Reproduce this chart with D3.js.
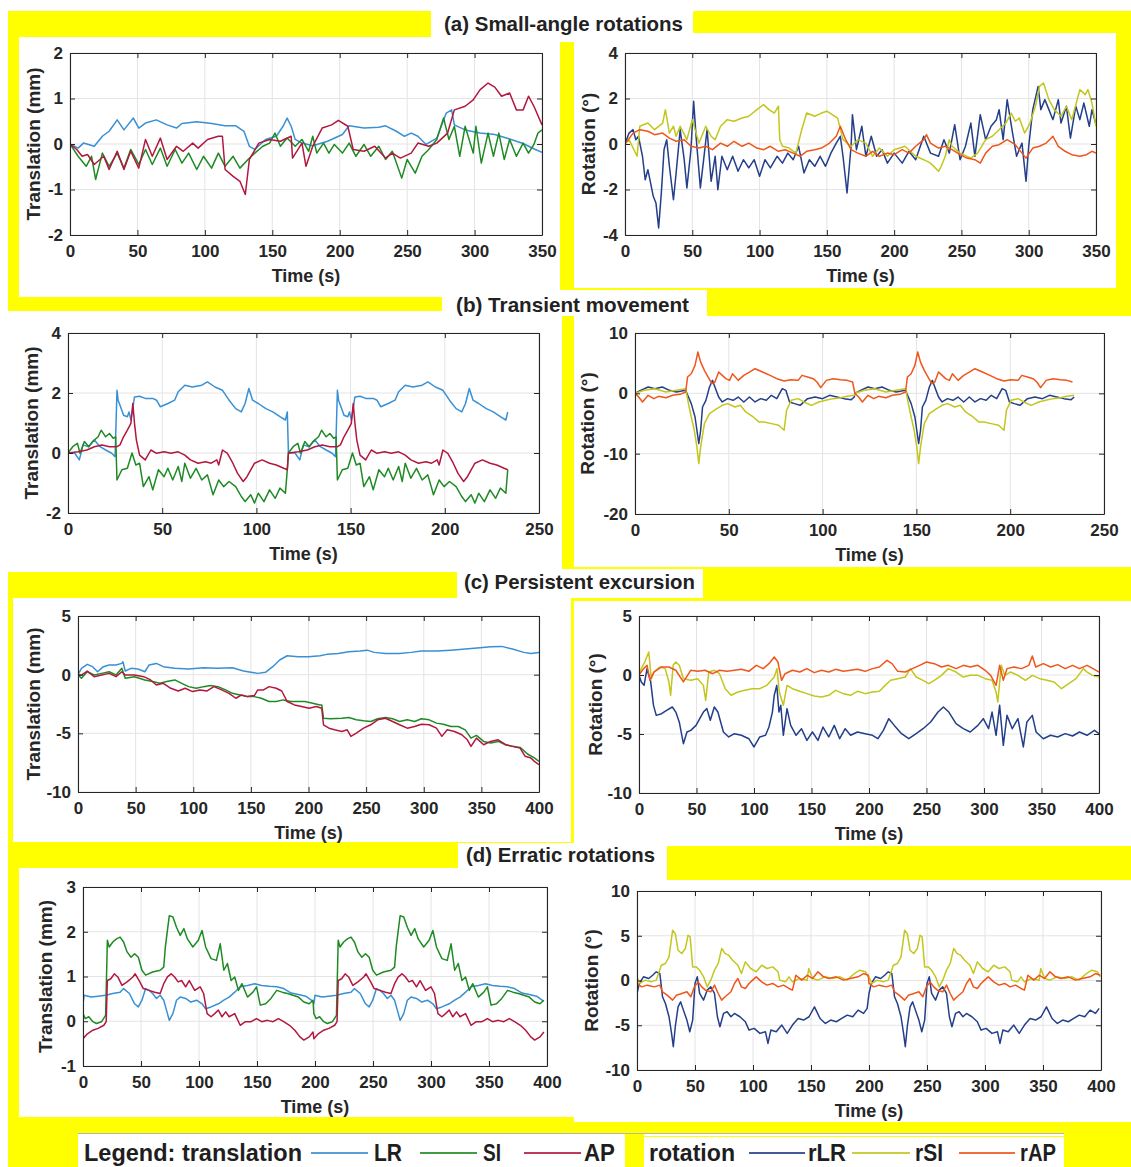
<!DOCTYPE html>
<html><head><meta charset="utf-8">
<script src="https://cdn.jsdelivr.net/npm/d3@7"></script>
<style>body{margin:0;background:#fff}svg{display:block}</style>
</head><body><svg id="c" width="1131" height="1167"></svg>
<script>
// ---------------- DATA (time s, value) ----------------
// (a) Small-angle rotations
const aLR=[[0,0],[6,-0.09],[10,0.02],[18,-0.05],[24,0.17],[29,0.28],[35,0.53],[40,0.31],[47,0.57],[51,0.35],[56,0.46],[64,0.53],[72,0.42],[79,0.35],[83,0.45],[94,0.49],[105,0.45],[115,0.40],[123,0.40],[129,0.28],[133,-0.05],[137,-0.12],[145,0.10],[153,0.17],[158,0.39],[161,0.57],[164,0.39],[167,0.10],[172,0.02],[180,-0.04],[191,0.06],[202,0.21],[207,0.40],[218,0.35],[229,0.37],[234,0.40],[242,0.28],[248,0.17],[253,0.24],[258,0.17],[264,-0.01],[272,0.13],[279,0.68],[283,0.75],[285,0.42],[293,0.31],[304,0.24],[315,0.21],[326,0.11],[336,0.01],[345,-0.12],[350,-0.18]];
const aSI=[[0,0],[6,-0.27],[12,-0.49],[16,-0.27],[19,-0.78],[24,-0.20],[29,-0.49],[35,-0.20],[40,-0.53],[45,-0.12],[51,-0.45],[56,-0.12],[61,-0.45],[67,-0.09],[72,-0.49],[78,-0.12],[83,-0.42],[88,-0.20],[94,-0.56],[99,-0.27],[105,-0.53],[110,-0.20],[115,-0.49],[121,-0.27],[126,-0.53],[132,-0.34],[137,-0.20],[143,-0.05],[148,0.02],[152,0.24],[156,-0.05],[161,0.13],[167,-0.05],[172,0.10],[177,-0.16],[180,0.17],[183,-0.20],[188,0.02],[192,-0.20],[196,-0.01],[202,-0.20],[207,0.02],[212,-0.27],[218,-0.01],[223,-0.27],[229,-0.05],[234,-0.34],[239,-0.16],[246,-0.75],[250,-0.34],[256,-0.64],[261,-0.27],[266,-0.12],[272,0.10],[277,0.57],[281,0.10],[285,0.39],[289,-0.27],[293,0.39],[299,-0.20],[301,0.39],[305,-0.42],[310,0.24],[314,-0.27],[318,0.24],[322,-0.34],[326,0.10],[331,-0.27],[336,0.02],[340,-0.20],[344,-0.01],[347,0.24],[350,0.31]];
const aAP=[[0,0],[5,-0.12],[9,-0.27],[13,-0.23],[18,-0.45],[25,-0.27],[29,-0.56],[35,-0.16],[40,-0.56],[45,-0.16],[51,-0.53],[56,0.10],[61,-0.27],[67,0.13],[72,-0.34],[79,-0.05],[84,-0.16],[91,0.02],[95,-0.09],[102,0.10],[110,0.17],[113,0.17],[115,-0.56],[121,-0.71],[126,-0.82],[130,-1.11],[133,-0.34],[140,0.02],[148,0.10],[156,0.06],[164,0.17],[165,-0.31],[172,0.02],[175,-0.49],[180,-0.05],[187,0.35],[194,0.42],[199,0.52],[206,0.39],[210,-0.12],[218,-0.16],[226,-0.05],[234,-0.31],[239,-0.20],[245,-0.31],[253,-0.20],[258,0.02],[266,-0.05],[272,0.02],[280,0.24],[285,0.75],[293,0.83],[299,0.97],[304,1.19],[310,1.34],[315,1.25],[320,1.05],[326,1.12],[331,0.75],[336,0.75],[340,1.05],[344,0.83],[350,0.42]];
const aRLR=[[0,0],[3,0.48],[6,0.63],[8,0.19],[10,0.34],[13,-0.54],[15,-1.57],[17,-1.13],[19,-1.71],[21,-2.30],[23,-2.59],[25,-3.69],[27,-2.15],[29,-0.25],[31,0.19],[33,-0.98],[36,-2.45],[38,-1.27],[41,0.63],[44,-0.69],[46,-1.93],[49,-0.25],[51,1.88],[53,0.19],[56,-1.93],[59,-0.40],[61,0.63],[64,-1.64],[67,-0.54],[69,-2.01],[72,-0.54],[76,-1.13],[80,-0.54],[84,-1.20],[88,-0.69],[92,-1.05],[96,-0.69],[100,-1.42],[104,-0.69],[108,-1.05],[113,-0.54],[117,-0.84],[121,-0.40],[125,-0.69],[129,-0.10],[133,-1.27],[137,-0.69],[141,-0.98],[145,-0.54],[149,-0.98],[153,-0.40],[157,0.04],[160,0.34],[162,-0.54],[165,-2.15],[168,-0.10],[169,1.29],[172,-0.25],[176,0.78],[179,-0.54],[183,0.34],[187,-0.54],[191,-0.25],[195,-0.84],[200,-0.40],[206,-0.84],[211,-0.32],[216,-0.69],[222,0.34],[227,-0.40],[233,-0.54],[237,0.19],[241,-0.40],[245,0.85],[249,-0.69],[253,-0.10],[257,0.92],[260,-0.54],[264,1.29],[268,0.19],[272,0.78],[276,1.07],[278,1.51],[281,0.19],[284,1.95],[288,0.48],[291,-0.54],[295,0.04],[298,-1.64],[300,-0.10],[303,1.51],[307,2.53],[309,1.51],[312,1.95],[315,1.51],[318,1.07],[322,1.95],[324,0.92],[328,1.66],[331,0.26],[335,1.66],[338,1.07],[341,1.80],[345,0.78],[347,1.51],[350,0.85]];
const aRSI=[[0,0],[3,0.19],[9,-0.54],[11,0.78],[17,0.92],[22,0.63],[28,0.92],[30,1.51],[33,0.48],[36,0.78],[38,0.34],[41,0.78],[46,0.19],[50,1.07],[55,0.04],[60,0.78],[64,0.34],[67,0.19],[71,0.78],[76,1.07],[81,1.00],[87,1.14],[92,1.22],[98,1.51],[103,1.73],[107,1.51],[111,1.36],[114,1.66],[115,0.19],[117,-0.10],[122,-0.18],[127,-0.40],[131,0.56],[135,1.36],[141,1.22],[146,1.36],[150,1.44],[154,1.29],[158,1.14],[162,0.19],[168,-0.10],[173,0.19],[179,0.04],[184,-0.54],[189,-0.18],[195,-0.54],[200,-0.25],[208,-0.10],[216,-0.54],[222,-0.69],[227,-0.84],[233,-1.20],[235,-0.98],[238,-0.54],[241,0.19],[243,-0.10],[249,-0.40],[257,-0.62],[262,-0.40],[268,0.19],[273,0.34],[278,0.63],[283,0.92],[287,1.36],[290,1.00],[293,1.14],[297,0.48],[301,0.92],[305,1.66],[308,2.53],[311,2.68],[315,1.95],[319,1.51],[324,1.22],[328,1.66],[332,1.07],[338,2.39],[342,2.17],[344,2.39],[347,1.80],[350,0.78]];
const aRAP=[[0,0],[6,0.48],[11,0.63],[17,0.56],[22,0.41],[28,0.48],[33,0.26],[38,0.12],[44,0.19],[49,-0.10],[55,-0.18],[60,-0.10],[65,-0.25],[71,0.04],[76,-0.10],[81,0.12],[87,-0.10],[92,0.04],[98,-0.18],[103,-0.25],[108,-0.10],[114,-0.32],[119,-0.25],[125,-0.40],[130,-0.54],[135,-0.32],[141,-0.25],[146,-0.18],[152,0.04],[157,0.34],[160,0.78],[164,0.19],[168,-0.25],[173,-0.40],[179,-0.54],[184,-0.32],[189,-0.54],[195,-0.40],[200,-0.47],[206,-0.25],[211,-0.40],[216,-0.10],[222,0.19],[224,0.41],[227,0.04],[233,-0.18],[238,-0.10],[243,-0.25],[249,-0.47],[254,-0.62],[260,-0.69],[264,-0.84],[268,-0.40],[273,-0.10],[278,-0.03],[284,0.19],[290,-0.03],[295,-0.40],[298,-0.62],[303,-0.18],[308,-0.10],[313,0.04],[318,0.34],[322,-0.10],[327,-0.32],[332,-0.47],[338,-0.54],[343,-0.47],[347,-0.32],[350,-0.40]];

// (b) Transient movement: one recorded cycle, shown twice in the figure
const bCycleLR=[[0,0],[3.5,0],[6,-0.23],[8,0.27],[11,0.21],[14,0.43],[17,0.21],[20,0.10],[23,0.0],[25,-0.12],[26,2.09],[26.6,1.76],[27.6,1.59],[29.5,1.26],[31.5,1.21],[32.4,1.37],[33.4,1.10],[35.3,1.87],[38,1.89],[41,1.82],[45,1.82],[47,1.76],[49,1.54],[53,1.65],[56.6,1.76],[58.5,2.04],[62,2.26],[66,2.20],[71,2.26],[74,2.37],[78,2.20],[82,2.09],[85.5,1.76],[89,1.48],[92,1.37],[94,1.65],[96,2.15],[98,1.76],[101,1.65],[105,1.48],[108.7,1.37],[112.5,1.21],[115.4,1.10],[116.4,1.37]];
const bCycleSI=[[0,0],[2.5,0.21],[5,0.32],[6.4,-0.01],[8.7,0.38],[11,0.21],[13,0.38],[16,0.54],[17.6,0.76],[20,0.54],[22,0.65],[24,0.49],[25.3,0.54],[26,-0.90],[28.6,-0.56],[31.5,-0.51],[34,0],[36,-0.40],[38,-0.34],[40,-1.12],[43,-0.79],[45,-1.23],[48,-0.56],[51,-0.79],[53,-0.51],[55.6,-0.90],[58.5,-0.45],[60.4,-0.95],[62,-0.34],[65,-0.84],[68,-0.51],[71,-0.90],[74,-0.73],[77,-1.39],[80,-0.90],[82.6,-1.12],[85.5,-0.95],[89,-1.12],[92,-1.45],[94,-1.62],[97,-1.39],[99,-1.67],[101,-1.34],[104,-1.62],[107,-1.23],[110,-1.51],[112.5,-1.17],[115.4,-1.34],[116.4,-0.56]];
const bCycleAP=[[0,0],[5.4,0.04],[10,0.10],[14,0.21],[18,0.27],[22,0.21],[26,0.21],[27.6,0.27],[29.5,0.54],[31.5,0.76],[33.4,0.99],[34.4,1.65],[35.3,0.99],[36.3,0.43],[38,-0.07],[41,-0.23],[44,0.10],[47,-0.01],[51,0.04],[54.6,-0.01],[58.5,0.04],[62,-0.07],[65,-0.23],[69,-0.34],[73,-0.29],[76,-0.34],[79,-0.23],[80,-0.40],[82,0.10],[84.6,-0.01],[87.5,-0.34],[90,-0.68],[93,-0.95],[95,-0.79],[99,-0.34],[103,-0.23],[107,-0.34],[110.6,-0.40],[114.5,-0.51],[116.4,-0.56]];
const bCycleRLR=[[0,0],[3,0.50],[7,1.05],[10.6,0.77],[14.5,1.05],[18.4,0.50],[22,0.22],[27,0.50],[28.5,-0.61],[30,-1.71],[32,-3.92],[33,-6.12],[34,-8.33],[35,-6.12],[36,-2.26],[37.8,-1.16],[39.7,1.05],[41.3,2.15],[42.6,1.05],[44.6,-0.61],[46.5,-1.43],[49.4,-0.88],[52.3,-1.16],[55,-0.61],[58,-1.43],[61,-0.61],[64,-1.43],[67,-0.88],[70,-1.16],[72.7,-0.33],[75.6,-0.88],[78.5,0.77],[80.4,0.50],[82.4,-1.43],[85,-1.71],[88,-1.99],[92,-0.88],[96,-0.61],[100,-0.88],[103.7,-0.33],[107.6,-0.61],[111.4,-0.88],[115.3,-1.05],[116.9,-0.61]];
const bCycleRSI=[[0,0],[5,0.50],[10.6,0.77],[16.5,0.22],[22,0.50],[27,0.77],[28.5,-1.71],[30,-3.92],[31.6,-6.12],[33,-8.88],[34,-11.64],[35,-8.88],[37,-5.02],[39.7,-3.36],[43.6,-2.54],[46.5,-1.99],[49.4,-1.71],[53.3,-2.26],[56.2,-1.99],[59,-3.09],[63,-3.92],[66,-4.74],[68.8,-4.74],[72.7,-5.02],[76.6,-5.30],[79.5,-6.12],[80.8,-2.81],[83.3,-1.16],[87,-0.88],[90,-1.43],[94,-1.99],[98,-1.43],[101.7,-1.16],[105.6,-0.88],[109.5,-0.72],[113,-0.50],[116.9,-0.33]];
const bCycleRAP=[[0,0],[2,-0.61],[4,-1.43],[7,-0.33],[10,-0.88],[12.6,-0.50],[16.5,-0.72],[20,-0.33],[24,-0.17],[27,0.22],[28,2.70],[30,3.25],[32,4.63],[33.5,6.84],[35,5.18],[37,3.81],[39,2.70],[41,1.60],[42.6,1.88],[44.6,3.53],[46.5,2.98],[48.4,2.43],[50.4,2.15],[52,3.25],[55,2.15],[58,2.98],[61,3.53],[64,4.08],[68,3.53],[72,2.98],[75.6,2.43],[79.5,2.04],[83,2.26],[87,2.15],[89,2.98],[92,2.70],[95,2.43],[97,1.88],[99,0.94],[102,2.15],[105.6,2.43],[109.5,2.26],[113,2.15],[116,1.88]];

// (c) Persistent excursion
const cLR=[[0,0],[3,0.54],[8,0.88],[12.6,0.68],[17,0.25],[22,0.68],[27,0.82],[33,0.82],[38,0.96],[39,1.10],[41,0.31],[46,0.54],[52,0.48],[58,0.25],[61.6,0.82],[68,0.96],[74,0.68],[84,0.54],[96,0.48],[109,0.59],[121.5,0.54],[134,0.59],[143.6,0.31],[150,0.20],[156,0.11],[162.6,0.20],[169,0.68],[175,1.25],[181.5,1.61],[191,1.53],[200,1.53],[210,1.61],[216,1.73],[225.7,1.81],[235,1.95],[244.7,2.01],[251,2.09],[257,1.90],[266.8,1.81],[279,1.81],[289,1.90],[298,2.01],[311,2.01],[323.6,2.09],[336,2.18],[348.9,2.29],[358,2.38],[367.8,2.41],[377,2.18],[386.7,1.90],[393,1.81],[400,1.90]];
const cSI=[[0,0],[3,-0.31],[8,0.25],[14,-0.03],[20.5,0.11],[27,0.25],[33,-0.03],[38,0.54],[41,-0.31],[49,-0.17],[58,-0.45],[64.7,-0.59],[71,-0.74],[77,-0.59],[84,-0.45],[90,-0.74],[96,-1.02],[102.6,-1.16],[109,-1.02],[115,-0.93],[121.5,-1.02],[128,-1.30],[134,-1.59],[140.5,-1.73],[147,-1.87],[153,-1.87],[159,-2.01],[165.8,-2.29],[172,-2.29],[178,-2.15],[184.7,-2.29],[191,-2.29],[197,-2.29],[203.6,-2.43],[210,-2.58],[211.5,-2.58],[213,-3.71],[219,-3.76],[229,-3.71],[235,-3.65],[241.5,-3.85],[247.8,-3.93],[254,-3.99],[260,-3.76],[266.8,-3.65],[273,-3.76],[279,-3.99],[285.7,-3.85],[292,-3.99],[298,-3.76],[304.7,-3.85],[311,-4.13],[317,-4.22],[323.6,-4.42],[330,-4.42],[336,-4.70],[341,-5.41],[345.7,-5.18],[352,-5.69],[358,-5.83],[364.6,-5.69],[371,-5.97],[377,-6.11],[383.6,-6.20],[390,-6.76],[396,-7.10],[400,-7.39]];
const cAP=[[0,0],[3,-0.03],[8,0.31],[14,-0.17],[20.5,-0.03],[27,0.11],[33,-0.17],[38,0.25],[41,-0.03],[49,-0.03],[57,-0.17],[63,-0.45],[68,-0.88],[74,-0.74],[80.5,-1.16],[87,-1.39],[93,-1.16],[99.4,-1.44],[105.8,-1.30],[112,-1.39],[118,-1.02],[124.7,-1.30],[131,-1.59],[137,-2.01],[142,-1.73],[147,-1.87],[153,-1.78],[156,-1.30],[161,-1.30],[165.8,-1.02],[172,-1.16],[176.8,-1.39],[181.5,-2.29],[187.8,-2.58],[194,-2.72],[200.5,-2.86],[206.8,-2.72],[211.5,-2.86],[213,-4.27],[217.8,-4.56],[222.6,-4.70],[229,-4.84],[233.6,-4.70],[236.8,-5.26],[241.5,-4.98],[247.8,-4.56],[254,-4.27],[260,-3.85],[266.8,-3.71],[273,-3.99],[279,-4.27],[285.7,-4.56],[292,-4.42],[298,-4.22],[304.7,-4.27],[311,-4.56],[315.7,-5.26],[320.4,-4.70],[326.7,-4.84],[333,-5.12],[337.8,-5.55],[341,-6.11],[345.7,-5.41],[352,-5.97],[358,-5.69],[364.6,-5.55],[371,-5.97],[377,-6.11],[383.6,-6.26],[388,-6.96],[393,-7.10],[396,-7.39],[400,-7.67]];
const cRLR=[[0,0],[2,-0.59],[4.4,-0.88],[7,0.54],[8.5,-0.03],[10,-0.45],[12.6,-2.57],[15,-3.42],[19.6,-3.28],[24,-2.99],[29,-2.71],[32,-3.14],[35,-3.98],[38.6,-5.82],[41.7,-4.83],[45,-4.69],[49.6,-4.27],[52.8,-3.70],[56,-3.14],[59,-2.85],[62,-3.84],[65.5,-2.71],[68.6,-3.14],[73.4,-4.83],[78,-5.25],[83,-4.97],[89,-5.11],[95.5,-5.40],[100,-6.10],[105,-5.25],[110,-5.11],[113,-4.41],[116,-3.14],[117.6,-1.72],[119.8,-0.88],[121.7,-3.14],[123.3,-2.57],[125.5,-5.11],[128.7,-2.85],[131.9,-4.27],[136.6,-5.11],[141.3,-4.55],[146,-5.54],[150.8,-4.83],[155.6,-5.54],[160,-4.41],[165,-5.25],[169.8,-4.27],[174.5,-5.40],[179.3,-4.55],[184,-5.11],[190,-4.83],[196.7,-4.97],[203,-5.11],[207.7,-5.40],[212.5,-4.69],[217.2,-3.70],[222,-4.27],[228.3,-4.97],[234.6,-5.40],[241,-4.97],[247,-4.55],[253.6,-3.98],[260,-3.14],[264.7,-2.71],[269.4,-3.14],[275.7,-4.12],[282,-4.55],[288,-4.83],[294.7,-4.27],[299.4,-3.70],[304,-4.55],[307,-3.14],[310.5,-5.11],[313.6,-2.57],[316.8,-5.96],[320,-3.42],[324.6,-4.55],[329.5,-3.70],[334.2,-6.10],[337.3,-3.98],[342,-3.42],[345.3,-4.83],[351.6,-5.40],[357.9,-5.11],[364,-5.25],[370.6,-4.97],[377,-5.17],[383,-4.83],[389.6,-5.11],[396,-4.69],[400,-4.97]];
const cRSI=[[0,0],[2,0.54],[5,1.10],[8.5,1.95],[10.7,-0.31],[13,0.25],[18,0.68],[22.8,0.54],[26,-0.59],[27.5,-1.72],[29.7,0.82],[32,1.10],[35,0.82],[38.6,-0.31],[45,-0.45],[51,-0.31],[56,-0.88],[58,-2.15],[60.7,0.25],[65.5,0.40],[70,0.11],[75,-1.16],[80,-1.72],[86,-1.44],[92,-1.30],[98.6,-1.16],[105,-1.16],[111,-0.88],[117.6,-0.17],[120,0.54],[122,-1.44],[125.5,-2.57],[128.7,-0.88],[133.4,-1.16],[139.8,-1.38],[146,-1.58],[152.4,-1.78],[158.7,-1.86],[165,-1.72],[171,-1.30],[177.7,-1.58],[184,-1.72],[190,-1.38],[196.7,-1.58],[203,-1.44],[209,-1.38],[214,-0.88],[218.8,-0.45],[225,-0.31],[231.5,-0.17],[236,0.54],[241,-0.17],[247,-0.45],[252,-0.73],[256.8,-0.45],[263,-0.03],[269,0.54],[275.7,0.25],[282,-0.17],[288,-0.03],[294.7,-0.03],[301,-0.31],[307,-0.45],[310.5,-1.44],[312,-2.29],[315,0.82],[318,-0.03],[323,0.25],[329.5,-0.03],[336,-0.45],[342,-0.03],[348.5,-0.31],[354.8,-0.45],[361,-0.59],[367.4,-1.16],[373.7,-0.73],[380,-0.31],[386.4,0.54],[389.6,0.25],[394.3,-0.03],[400,-0.17]];
const cRAP=[[0,0],[4,0.54],[7,0.82],[9.5,-0.45],[13,0.25],[19.6,0.68],[26,0.68],[32,0.40],[38.6,-0.59],[45,0.40],[51,0.31],[57.5,0.40],[64,0.11],[70,0.40],[76.5,0.31],[83,0.40],[89,0.48],[95.5,0.31],[102,0.82],[108,0.54],[113,0.96],[117.6,1.53],[120.8,1.10],[124,-0.45],[127,0.11],[133.4,0.40],[139.8,0.25],[146,0.54],[152.4,0.20],[158.7,0.40],[165,0.25],[171,0.48],[177.7,0.31],[184,0.40],[190,0.48],[196.7,0.31],[203,0.54],[209,0.68],[215.6,1.24],[220,0.96],[225,0.31],[231.5,0.25],[237.8,0.54],[244,0.82],[250,1.10],[256.8,0.96],[263,0.68],[269,0.82],[275.7,0.54],[282,0.82],[288,0.68],[294.7,0.82],[301,0.40],[305.8,-0.03],[310.5,-0.88],[313.6,0.82],[316.8,-0.45],[320,0.54],[326,0.68],[332.6,0.54],[339,0.82],[342,1.61],[345,0.68],[351.6,0.96],[357.9,0.68],[364,0.88],[370.6,0.54],[377,0.82],[383,0.54],[389.6,0.82],[396,0.48],[400,0.25]];

// (d) Erratic rotations: one recorded cycle, shown twice in the figure
const dCycleLR=[[0,0.39],[1,0.58],[7,0.54],[13,0.56],[19.5,0.58],[25.7,0.62],[32,0.65],[35,0.73],[40,0.62],[44.5,0.39],[47.7,0.32],[50.8,0.47],[54,0.73],[57,0.69],[60,0.62],[63.4,0.51],[66.5,0.58],[69.6,0.47],[72.8,0.17],[74.4,0.02],[77.5,0.17],[80.6,0.47],[83.8,0.54],[88.5,0.51],[93,0.43],[98,0.47],[102.6,0.39],[105.7,0.28],[110.4,0.32],[116.7,0.39],[121.4,0.47],[126,0.54],[130.8,0.65],[135.5,0.77],[141.8,0.80],[148,0.84],[154,0.80],[160.6,0.78],[167,0.77],[173,0.73],[179.5,0.63],[185.7,0.60],[192,0.56],[198,0.45]];
const dCycleSI=[[0,0.17],[2,0.06],[5,0.10],[8.5,-0.01],[11.6,-0.05],[16,-0.01],[19.5,0.13],[21,1.81],[22.6,1.66],[25.7,1.77],[28.9,1.84],[32,1.88],[35,1.77],[38,1.55],[41.4,1.43],[44.5,1.51],[47.7,1.43],[50.8,1.14],[54,1.03],[60,1.10],[66.5,1.14],[69.6,1.21],[71,1.66],[74.4,2.36],[77.5,2.33],[80.6,2.10],[83.8,1.92],[87,2.07],[90,1.84],[94.7,1.66],[99.4,1.81],[102.6,2.03],[105.7,1.66],[110.4,1.40],[115,1.36],[118.3,1.73],[121.4,1.14],[124.5,1.29],[127.7,0.91],[130.8,0.99],[134,0.69],[137,0.84],[141.8,0.54],[146.5,0.65],[149.6,0.77],[152.8,0.36],[157.5,0.39],[162,0.51],[167,0.69],[171.6,0.65],[176.3,0.62],[181,0.58],[185.7,0.54],[190.4,0.43],[195,0.39],[198.3,0.47]];
const dCycleAP=[[0,-0.39],[3.8,-0.28],[8.5,-0.20],[13,-0.16],[18,-0.09],[20,-0.01],[21,0.91],[24,0.95],[27,1.06],[30,0.99],[33.6,0.80],[38,0.88],[43,0.99],[45,1.06],[49,0.88],[52,0.73],[57,0.69],[61.8,0.65],[66.5,0.62],[69.6,0.84],[72.8,0.99],[76,1.06],[79,0.99],[82,0.88],[85,0.91],[88.5,0.77],[91.6,0.91],[96.3,0.69],[101,0.77],[104,0.62],[107,0.17],[110.4,0.10],[113.6,0.17],[116.7,0.25],[119.8,0.10],[123,0.21],[126,0.10],[130.8,0.17],[135.5,-0.09],[140,-0.01],[145,-0.01],[149.6,0.06],[154,-0.01],[159,0.02],[163.8,-0.01],[168.5,0.06],[173,-0.01],[178,-0.09],[182.6,-0.20],[187,-0.35],[190.4,-0.42],[195,-0.35],[198.3,-0.24]];
const dCycleRLR=[[0,-1.45],[2,-0.33],[5.6,0.41],[10,0.22],[13.5,0.59],[16.6,0.97],[19.7,0.78],[22,-1.82],[24.5,-2.57],[27.6,-4.05],[29.8,-5.91],[31.3,-7.40],[33,-5.17],[35.4,-2.94],[37.6,-2.38],[40,-3.31],[43,-4.42],[45.5,-5.72],[48,-4.42],[50,-0.33],[52,0.41],[54,-1.45],[57.4,-2.19],[60.5,-1.08],[63.6,-0.71],[66.8,-1.45],[69.3,-4.05],[71.5,-5.17],[74.6,-3.68],[77.7,-3.49],[81,-4.05],[84,-3.68],[88.7,-4.05],[93.4,-4.61],[96.6,-5.54],[101,-5.35],[106,-5.91],[110.7,-5.72],[112.9,-7.03],[115.4,-5.54],[120,-5.72],[124.8,-4.98],[129.5,-5.91],[134,-4.98],[138.9,-4.24],[143.6,-4.42],[148.3,-4.05],[153,-2.94],[157.8,-4.24],[162.4,-4.80],[167,-4.42],[171.8,-4.61],[176.5,-4.24],[181.2,-3.87],[186,-4.05],[190.6,-3.31],[195.3,-3.68],[198.4,-3.12]];
const dCycleRSI=[[0,0.41],[2.5,-0.33],[7,0.04],[12,-0.15],[16.6,0.04],[21,1.71],[24.5,1.90],[27.6,2.64],[30.7,5.61],[33,5.24],[35.4,3.38],[38.6,3.01],[41.7,3.57],[44,5.06],[45.8,4.87],[48,1.52],[51,1.52],[54,1.15],[57.4,0.41],[60.5,-0.71],[63.6,0.04],[66.8,1.15],[70,1.90],[73,3.57],[76,3.01],[79,2.83],[82.4,2.27],[87,1.71],[90,0.78],[93.4,2.08],[98,1.34],[102.8,0.97],[107.5,1.71],[112,1.34],[117,1.52],[121.6,0.97],[123,0.04],[128,-0.15],[131,0.41],[134,-0.15],[140,0.22],[146.7,0.04],[148,1.34],[151.4,0.22],[156,0.04],[162,0.41],[168.6,0.22],[175,0.41],[181,0.04],[187.5,0.78],[192,1.15],[197,0.97],[199.4,0.41]];
const dCycleRAP=[[0,-0.33],[4,-0.71],[8.8,-0.52],[15,-0.71],[19.7,-0.52],[22,-1.26],[26,-1.64],[30.7,-2.19],[34,-1.64],[38.6,-1.45],[43,-1.26],[46.4,-1.82],[49.5,-0.71],[52.7,-0.15],[55.8,-0.71],[59,-1.08],[63.6,-1.26],[66.8,-0.52],[70,-1.45],[73,-2.19],[76,-1.82],[81,-1.26],[84,-0.33],[87,0.22],[90,-0.71],[93.4,-0.89],[96.6,-0.33],[99.7,0.04],[102.8,0.41],[107.5,-0.15],[112,-0.52],[117,-0.33],[121.6,-0.71],[126.3,-0.52],[131,-0.89],[134,-1.08],[137,0.59],[142,0.04],[146.7,0.59],[151.4,0.22],[156,0.97],[160.8,0.41],[165.5,0.22],[171.8,0.41],[178,0.04],[184,0.22],[190.6,0.41],[195.3,0.78],[199.4,0.59]];

// ticks & labels
const xTicks350=[0,50,100,150,200,250,300,350];
const xTicks250=[0,50,100,150,200,250];
const xTicks400=[0,50,100,150,200,250,300,350,400];
const yTicksA_T=[-2,-1,0,1,2], yTicksA_R=[-4,-2,0,2,4];
const yTicksB_T=[-2,0,2,4], yTicksB_R=[-20,-10,0,10];
const yTicksC=[-10,-5,0,5];
const yTicksD_T=[-1,0,1,2,3], yTicksD_R=[-10,-5,0,5,10];
const titles=['(a) Small-angle rotations','(b) Transient movement','(c) Persistent excursion','(d) Erratic rotations'];
const transNames=['LR','SI','AP'], rotNames=['rLR','rSI','rAP'];

// ---------------- DRAWING ----------------
const FONT='"Liberation Sans", Arial, Helvetica, sans-serif';
const INK='#262626';
const COL={LR:'#3990d4',SI:'#1f8a24',AP:'#b2183f',rLR:'#233f8a',rSI:'#c3c61d',rAP:'#ef561c'};
const svg=d3.select('#c');

function tile(cycle,period,n){const out=[];for(let k=0;k<n;k++)cycle.forEach(p=>out.push([p[0]+k*period,p[1]]));return out;}

// background: page white, yellow mat, white panels
svg.append('rect').attr('width',1131).attr('height',1167).attr('fill','#fff');
svg.append('rect').attr('x',8).attr('y',11).attr('width',1123).attr('height',1156).attr('fill','#ffff00');
const whiteBoxes=[[19,37,541,260],[431,11,262,31],[574,33,542,255],[0,311,562,261],[442,290,265,26],[574,316,557,251],
 [13,598,558,244],[457,569,246,29],[574,601,557,245],[19,868,555,249],[458,843,209,37],[574,880,557,242],[78,1133,547,34],[644,1137,420,30],[644,1133,420,3]];
svg.selectAll('rect.wb').data(whiteBoxes).join('rect').attr('class','wb')
 .attr('x',d=>d[0]).attr('y',d=>d[1]).attr('width',d=>d[2]).attr('height',d=>d[3]).attr('fill','#fff');

const fmt=d=>String(d);
function panel(p,idx){
 const g=svg.append('g');
 const x=d3.scaleLinear().domain(p.xd).range([p.x0,p.x1]);
 const y=d3.scaleLinear().domain(p.yd).range([p.y1,p.y0]);
 g.selectAll('line.gx').data(p.xt).join('line').attr('x1',d=>x(d)).attr('x2',d=>x(d)).attr('y1',p.y0).attr('y2',p.y1).attr('stroke','#e4e4e4').attr('stroke-width',1);
 g.selectAll('line.gy').data(p.yt).join('line').attr('x1',p.x0).attr('x2',p.x1).attr('y1',d=>y(d)).attr('y2',d=>y(d)).attr('stroke','#e4e4e4').attr('stroke-width',1);
 const cid='clip'+idx;
 svg.append('clipPath').attr('id',cid).append('rect').attr('x',p.x0).attr('y',p.y0).attr('width',p.x1-p.x0).attr('height',p.y1-p.y0);
 const line=d3.line().x(d=>x(d[0])).y(d=>y(d[1]));
 p.series.forEach(s=>g.append('path').datum(s[0]).attr('d',line).attr('fill','none').attr('stroke',s[1]).attr('stroke-width',1.5).attr('stroke-linejoin','round').attr('clip-path',`url(#${cid})`));
 const styleAx=a=>{a.attr('font-family',FONT).attr('font-size',17).attr('font-weight','bold');a.selectAll('.domain').attr('stroke',INK).attr('stroke-width',1.1);a.selectAll('.tick line').attr('stroke',INK);a.selectAll('text').attr('fill',INK);};
 styleAx(g.append('g').attr('transform',`translate(0,${p.y1})`).call(d3.axisBottom(x).tickValues(p.xt).tickSize(-5).tickSizeOuter(0).tickPadding(10).tickFormat(fmt)));
 styleAx(g.append('g').attr('transform',`translate(0,${p.y0})`).call(d3.axisTop(x).tickValues(p.xt).tickSize(-5).tickSizeOuter(0).tickFormat('')));
 styleAx(g.append('g').attr('transform',`translate(${p.x0},0)`).call(d3.axisLeft(y).tickValues(p.yt).tickSize(-5).tickSizeOuter(0).tickPadding(7).tickFormat(fmt)));
 styleAx(g.append('g').attr('transform',`translate(${p.x1},0)`).call(d3.axisRight(y).tickValues(p.yt).tickSize(-5).tickSizeOuter(0).tickFormat('')));
 g.append('text').attr('x',(p.x0+p.x1)/2).attr('y',p.y1+47).attr('text-anchor','middle').attr('font-family',FONT).attr('font-size',18).attr('font-weight','bold').attr('fill',INK).text('Time (s)');
 g.append('text').attr('transform',`translate(${p.lx+7},${(p.y0+p.y1)/2}) rotate(-90)`).attr('text-anchor','middle').attr('font-family',FONT).attr('font-size',19).attr('font-weight','bold').attr('fill',INK).text(p.yl);
}

const TL='Translation (mm)', RL='Rotation (°)';
const trans=(lr,si,ap)=>[[lr,COL.LR],[si,COL.SI],[ap,COL.AP]];
const rots=(a,b,c)=>[[a,COL.rLR],[b,COL.rSI],[c,COL.rAP]];
const panels=[
 {x0:70,x1:542,y0:53,y1:235,xd:[0,350],xt:xTicks350,yd:[-2,2],yt:yTicksA_T,yl:TL,lx:33,series:trans(aLR,aSI,aAP)},
 {x0:625,x1:1096,y0:53,y1:235,xd:[0,350],xt:xTicks350,yd:[-4,4],yt:yTicksA_R,yl:RL,lx:588,series:rots(aRLR,aRSI,aRAP)},
 {x0:68,x1:539,y0:333,y1:513,xd:[0,250],xt:xTicks250,yd:[-2,4],yt:yTicksB_T,yl:TL,lx:31,series:trans(tile(bCycleLR,117,2),tile(bCycleSI,117,2),tile(bCycleAP,117,2))},
 {x0:635,x1:1104,y0:333,y1:514,xd:[0,250],xt:xTicks250,yd:[-20,10],yt:yTicksB_R,yl:RL,lx:587,series:rots(tile(bCycleRLR,117.2,2),tile(bCycleRSI,117.2,2),tile(bCycleRAP,117.2,2))},
 {x0:78,x1:539,y0:616,y1:792,xd:[0,400],xt:xTicks400,yd:[-10,5],yt:yTicksC,yl:TL,lx:33,series:trans(cLR,cSI,cAP)},
 {x0:639,x1:1099,y0:616,y1:793,xd:[0,400],xt:xTicks400,yd:[-10,5],yt:yTicksC,yl:RL,lx:595,series:rots(cRLR,cRSI,cRAP)},
 {x0:83,x1:547,y0:887,y1:1066,xd:[0,400],xt:xTicks400,yd:[-1,3],yt:yTicksD_T,yl:TL,lx:45,series:trans(tile(dCycleLR,199,2),tile(dCycleSI,199,2),tile(dCycleAP,199,2))},
 {x0:637,x1:1101,y0:891,y1:1070,xd:[0,400],xt:xTicks400,yd:[-10,10],yt:yTicksD_R,yl:RL,lx:591,series:rots(tile(dCycleRLR,200,2),tile(dCycleRSI,200,2),tile(dCycleRAP,200,2))}
];
panels.forEach(panel);

// titles
const titlePos=[[444,31,239],[456,312,233],[464,589,231],[466,862,189]];
titles.forEach((t,i)=>svg.append('text').attr('x',titlePos[i][0]).attr('y',titlePos[i][1]).attr('textLength',titlePos[i][2]).attr('lengthAdjust','spacingAndGlyphs')
 .attr('font-family',FONT).attr('font-size',20.5).attr('font-weight','bold').attr('fill','#222').text(t));

// legend
svg.append('line').attr('x1',78).attr('x2',1064).attr('y1',1133.5).attr('y2',1133.5).attr('stroke','#b5b5b5').attr('stroke-width',1.2);
const LY=1161, LLY=1153;
function ltext(x,t,w){svg.append('text').attr('x',x).attr('y',LY).attr('textLength',w).attr('lengthAdjust','spacingAndGlyphs').attr('font-family',FONT).attr('font-size',23).attr('font-weight','bold').attr('fill','#1e1e1e').text(t);}
ltext(84,'Legend: translation',218);
ltext(649,'rotation',86);
const legT=[[311,368,374,28],[420,477,483,18],[524,581,584,31]];
const legR=[[749,805,808,38],[852,910,915,28],[959,1015,1020,36]];
transNames.forEach((n,i)=>{const L=legT[i];svg.append('line').attr('x1',L[0]).attr('x2',L[1]).attr('y1',LLY).attr('y2',LLY).attr('stroke',COL[n]).attr('stroke-width',2.2).attr('opacity',0.85);ltext(L[2],n,L[3]);});
rotNames.forEach((n,i)=>{const L=legR[i];svg.append('line').attr('x1',L[0]).attr('x2',L[1]).attr('y1',LLY).attr('y2',LLY).attr('stroke',COL[n]).attr('stroke-width',2.2).attr('opacity',0.85);ltext(L[2],n,L[3]);});
</script></body></html>
